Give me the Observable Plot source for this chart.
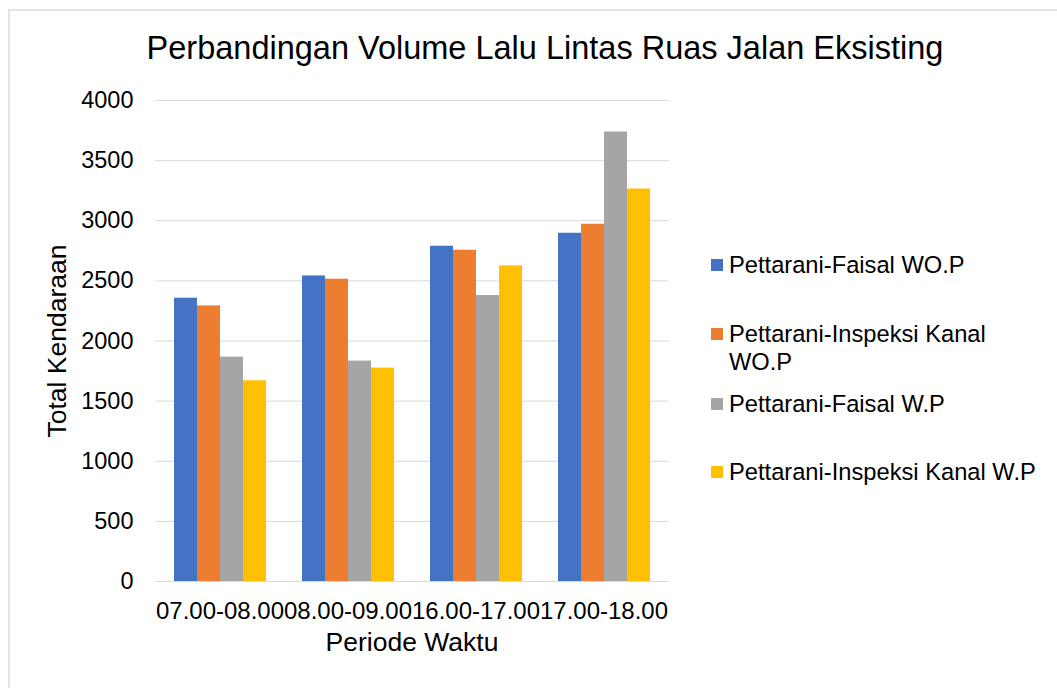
<!DOCTYPE html>
<html>
<head>
<meta charset="utf-8">
<script src="https://cdn.jsdelivr.net/npm/d3@7"></script>
<script src="https://cdn.jsdelivr.net/npm/@observablehq/plot@0.6"></script>
<style>
  html, body { margin: 0; padding: 0; background: #fff; }
  body { font-family: "Liberation Sans", Arial, sans-serif; color: #000; }
  #wrap { position: relative; width: 1057px; height: 688px; overflow: hidden; }
  #frame { position: absolute; left: 8px; top: 9px; width: 1200px; height: 800px; border: 2px solid #e3e3e3; box-sizing: border-box; }
  #base, #bars { position: absolute; left: 0; top: 0; }
  #title { position: absolute; left: 0; width: 1090px; text-align: center; top: 28px; font-size: 32.5px; line-height: 40px; white-space: nowrap; }
  .atitle { position: absolute; font-size: 26.5px; white-space: nowrap; line-height: 30px; }
  #xtitle { left: 155px; width: 514px; text-align: center; top: 627px; }
  #ytitle { left: 57px; top: 341px; transform: translate(-50%, -50%) rotate(-90deg); }
  #legend { position: absolute; left: 711px; top: 0; width: 346px; height: 688px; font-size: 23.7px; }
  .sw { position: absolute; left: 0; width: 12px; height: 12px; }
  .lt { position: absolute; left: 18px; line-height: 28px; white-space: nowrap; }
</style>
</head>
<body>
<div id="wrap">
  <div id="frame"></div>
  <div id="title">Perbandingan Volume Lalu Lintas Ruas Jalan Eksisting</div>
  <div id="ytitle" class="atitle">Total Kendaraan</div>
  <div id="xtitle" class="atitle">Periode Waktu</div>
  <div id="legend"></div>
</div>
<script>
// ---- data ----
const periods = ["07.00-08.00", "08.00-09.00", "16.00-17.00", "17.00-18.00"];
const seriesNames = [
  "Pettarani-Faisal WO.P",
  "Pettarani-Inspeksi Kanal WO.P",
  "Pettarani-Faisal W.P",
  "Pettarani-Inspeksi Kanal W.P"
];
const faisalWOP = [2356, 2541, 2788, 2896];
const kanalWOP  = [2292, 2514, 2755, 2971];
const faisalWP  = [1866, 1833, 2378, 3738];
const kanalWP   = [1669, 1775, 2625, 3264];
const yTicks = [0, 500, 1000, 1500, 2000, 2500, 3000, 3500, 4000];
const colors = ["#4472C4", "#ED7D31", "#A5A5A5", "#FFC000"];

const seriesValues = [faisalWOP, kanalWOP, faisalWP, kanalWP];
const table = [];
periods.forEach((p, i) => seriesNames.forEach((s, j) => table.push({period: p, series: s, value: seriesValues[j][i]})));

const W = 1057, H = 688;
const margins = {marginLeft: 155, marginRight: 388, marginTop: 100, marginBottom: 107};
const font = '"Liberation Sans", Arial, sans-serif';

// base layer: grid, axes
const base = Plot.plot({
  width: W, height: H, ...margins,
  style: {fontFamily: font, color: "#000", background: "transparent", overflow: "visible"},
  x: {type: "band", domain: periods, paddingInner: 0.27, paddingOuter: 0.135},
  y: {domain: [0, 4000]},
  marks: [
    Plot.gridY(yTicks, {stroke: "#d9d9d9", strokeOpacity: 1, strokeWidth: 1}),
    Plot.axisY(yTicks, {tickSize: 0, tickPadding: 22, fontSize: 23.5, label: null, tickFormat: d => String(d)}),
    Plot.axisX({tickSize: 0, tickPadding: 20, fontSize: 24, label: null})
  ]
});
base.id = "base";

// bars layer
const bars = Plot.plot({
  width: W, height: H, ...margins,
  style: {fontFamily: font, background: "transparent", overflow: "visible"},
  fx: {domain: periods, paddingInner: 0.27, paddingOuter: 0.135, axis: null},
  x: {domain: seriesNames, padding: 0, axis: null},
  y: {domain: [0, 4000], axis: null},
  color: {domain: seriesNames, range: colors},
  marks: [
    Plot.barY(table, {fx: "period", x: "series", y: "value", fill: "series", inset: 0})
  ]
});
bars.id = "bars";

const wrap = document.getElementById("wrap");
wrap.appendChild(base);
wrap.appendChild(bars);

// baseline across the whole plot, above bars
const baseline = Plot.plot({
  width: W, height: H, ...margins,
  style: {background: "transparent", position: "absolute", left: "0px", top: "0px"},
  x: {type: "band", domain: periods, axis: null},
  y: {domain: [0, 4000], axis: null},
  marks: [Plot.ruleY([0], {stroke: "#d9d9d9", strokeWidth: 1})]
});
wrap.appendChild(baseline);

// legend
const legend = document.getElementById("legend");
const rows = [
  {lines: ["Pettarani-Faisal WO.P"], sq: 259, base: 273},
  {lines: ["Pettarani-Inspeksi Kanal", "WO.P"], sq: 328, base: 342},
  {lines: ["Pettarani-Faisal W.P"], sq: 398, base: 412},
  {lines: ["Pettarani-Inspeksi Kanal W.P"], sq: 466, base: 480}
];
rows.forEach((r, i) => {
  const sw = document.createElement("div");
  sw.className = "sw";
  sw.style.top = r.sq + "px";
  sw.style.background = colors[i];
  legend.appendChild(sw);
  r.lines.forEach((t, k) => {
    const d = document.createElement("div");
    d.className = "lt";
    d.textContent = t;
    d.style.top = (r.base - 22 + k * 28) + "px";
    legend.appendChild(d);
  });
});
</script>
</body>
</html>
